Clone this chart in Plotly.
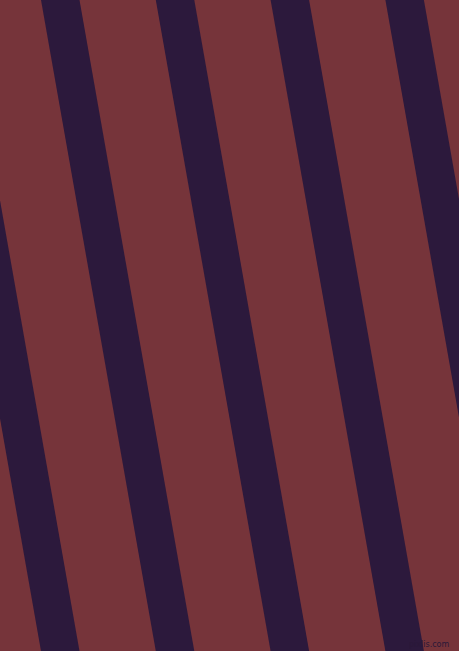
import math
import plotly.graph_objects as go

# Pattern data
W, H = 459, 651
stripe_starts = [-73.8, 41.0, 155.8, 270.6, 385.4]   # stripe left edge at top (px)
stripe_width = 38.5                                   # horizontal width (px)
angle_deg = 10.0                                      # lean from vertical
bg_color = "#76343A"
stripe_color = "#2C193C"
watermark = "pixlis.com"

shift = H * math.tan(math.radians(angle_deg))

fig = go.Figure()
for x0 in stripe_starts:
    xs = [x0, x0 + stripe_width, x0 + stripe_width + shift, x0 + shift, x0]
    ys = [0, 0, H, H, 0]
    fig.add_trace(go.Scatter(x=xs, y=ys, fill="toself", fillcolor=stripe_color,
                             mode="lines", line=dict(width=0, color=stripe_color),
                             hoverinfo="skip", showlegend=False))

fig.add_annotation(x=429, y=644, text=watermark, showarrow=False,
                   font=dict(family="DejaVu Sans", size=8, color="#2a1838"),
                   xanchor="center", yanchor="middle")

fig.update_layout(width=W, height=H, margin=dict(l=0, r=0, t=0, b=0),
                  paper_bgcolor=bg_color, plot_bgcolor=bg_color,
                  xaxis=dict(range=[0, W], visible=False, fixedrange=True),
                  yaxis=dict(range=[H, 0], visible=False, fixedrange=True))

fig.write_html("out.html", config=dict(displayModeBar=False),
               post_script="document.body.style.margin='0';document.body.style.padding='0';document.body.style.overflow='hidden';")
